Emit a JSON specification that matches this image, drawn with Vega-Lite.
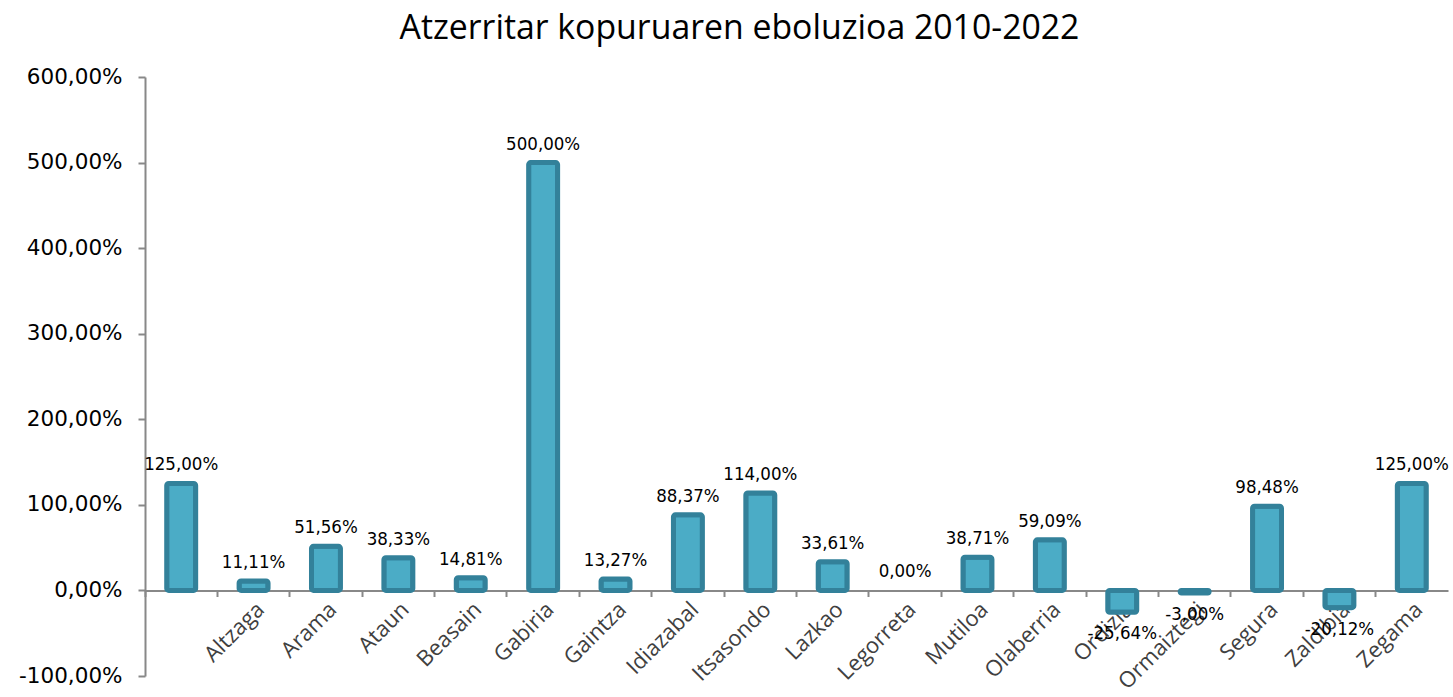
{
  "$schema": "https://vega.github.io/schema/vega-lite/v6.json",
  "width": 1303,
  "height": 599,
  "autosize": {"type": "none"},
  "padding": {"left": 145, "top": 77, "right": 5, "bottom": 21},
  "background": "white",
  "title": {
    "text": "Atzerritar kopuruaren eboluzioa 2010-2022",
    "font": "Open Sans",
    "fontSize": 33.8,
    "fontWeight": "normal",
    "color": "#000000",
    "anchor": "middle",
    "dx": -57,
    "offset": 20
  },
  "config": {
    "view": {"stroke": null},
    "locale": {"number": {"decimal": ",", "thousands": ".", "grouping": [3], "currency": ["", " €"], "minus": "-"}}
  },
  "data": {
    "values": [
      {"Herria": " ", "v": 1.25},
      {"Herria": "Altzaga", "v": 0.1111},
      {"Herria": "Arama", "v": 0.5156},
      {"Herria": "Ataun", "v": 0.3833},
      {"Herria": "Beasain", "v": 0.1481},
      {"Herria": "Gabiria", "v": 5.0},
      {"Herria": "Gaintza", "v": 0.1327},
      {"Herria": "Idiazabal", "v": 0.8837},
      {"Herria": "Itsasondo", "v": 1.14},
      {"Herria": "Lazkao", "v": 0.3361},
      {"Herria": "Legorreta", "v": 0},
      {"Herria": "Mutiloa", "v": 0.3871},
      {"Herria": "Olaberria", "v": 0.5909},
      {"Herria": "Ordizia", "v": -0.2564},
      {"Herria": "Ormaiztegi", "v": -0.03},
      {"Herria": "Segura", "v": 0.9848},
      {"Herria": "Zaldibia", "v": -0.2012},
      {"Herria": "Zegama", "v": 1.25}
    ]
  },
  "encoding": {
    "x": {
      "field": "Herria",
      "type": "nominal",
      "sort": null,
      "scale": {
        "domain": [" ", "Altzaga", "Arama", "Ataun", "Beasain", "Gabiria", "Gaintza", "Idiazabal", "Itsasondo", "Lazkao", "Legorreta", "Mutiloa", "Olaberria", "Ordizia", "Ormaiztegi", "Segura", "Zaldibia", "Zegama"],
        "paddingInner": 0,
        "paddingOuter": 0
      },
      "axis": {
        "title": null,
        "offset": -85.5,
        "bandPosition": 0,
        "labelAngle": -45,
        "labelFont": "Open Sans",
        "labelFontSize": 22,
        "labelColor": "#404040",
        "labelPadding": 2,
        "tickSize": 6,
        "tickColor": "#888888",
        "tickWidth": 2,
        "domainColor": "#888888",
        "domainWidth": 2,
        "labelOverlap": false,
        "labelBound": false,
        "grid": false
      }
    },
    "y": {
      "field": "v",
      "type": "quantitative",
      "scale": {"domain": [-1, 6], "nice": false, "zero": false},
      "axis": {
        "title": null,
        "values": [-1, 0, 1, 2, 3, 4, 5, 6],
        "format": ".2%",
        "labelFont": "DejaVu Sans",
        "labelFontSize": 21.5,
        "labelColor": "#000000",
        "labelPadding": 16,
        "tickSize": 7,
        "tickColor": "#888888",
        "tickWidth": 2,
        "domainColor": "#888888",
        "domainWidth": 2,
        "grid": false
      }
    }
  },
  "layer": [
    {
      "transform": [{"filter": "datum.v != 0"}],
      "mark": {
        "type": "bar",
        "width": {"band": 0.4},
        "fill": "#4BACC6",
        "stroke": "#33819A",
        "strokeWidth": 5,
        "cornerRadius": 2
      }
    },
    {
      "transform": [{"filter": "datum.v >= 0"}],
      "mark": {"type": "text", "baseline": "bottom", "dy": -9, "font": "DejaVu Sans Condensed", "fontSize": 18.5, "color": "#000000"},
      "encoding": {"text": {"field": "v", "type": "quantitative", "format": ".2%"}}
    },
    {
      "transform": [{"filter": "datum.v < 0"}],
      "mark": {"type": "text", "baseline": "top", "dy": 12, "font": "DejaVu Sans Condensed", "fontSize": 18.5, "color": "#000000"},
      "encoding": {"text": {"field": "v", "type": "quantitative", "format": ".2%"}}
    }
  ]
}
